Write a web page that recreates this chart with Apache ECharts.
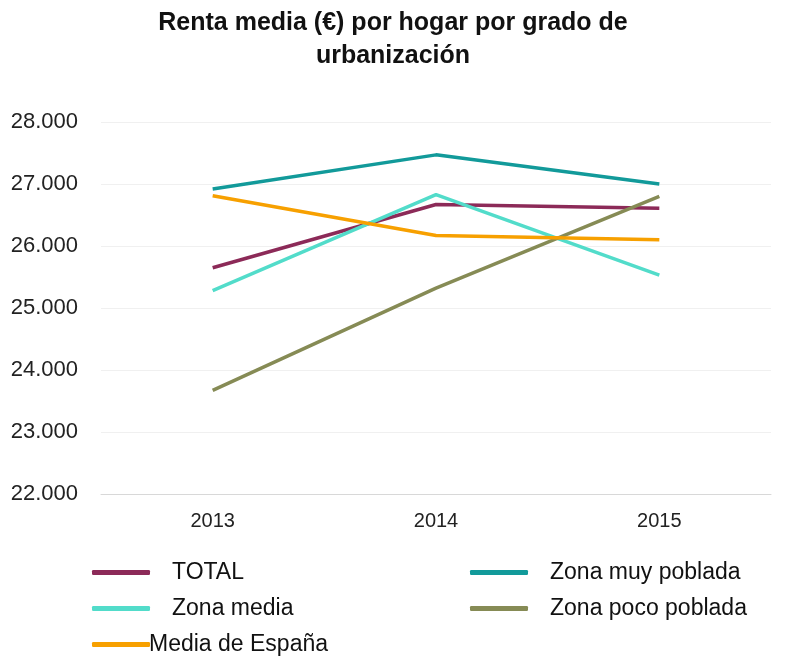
<!DOCTYPE html>
<html>
<head>
<meta charset="utf-8">
<script src="https://cdn.jsdelivr.net/npm/echarts@6/dist/echarts.min.js"></script>
<style>
  html, body { margin: 0; padding: 0; background: #fff; }
  #main { width: 786px; height: 659px; }
</style>
</head>
<body>
<div id="main"></div>
<script>
// datos
const years = ['2013', '2014', '2015'];
const total = [25650, 26670, 26610];
const zonaMuyPoblada = [26920, 27470, 27000];
const zonaMedia = [25280, 26830, 25530];
const zonaPocoPoblada = [23670, 25320, 26800];
const mediaEspana = [26810, 26170, 26100];

const chart = echarts.init(document.getElementById('main'));

const legendText = { fontSize: 23, color: '#111', fontFamily: 'Liberation Sans' };

const option = {
  backgroundColor: '#fff',
  title: {
    text: 'Renta media (€) por hogar por grado de\nurbanización',
    left: 'center',
    top: 2,
    textStyle: {
      fontSize: 25,
      fontWeight: 'bold',
      color: '#111',
      fontFamily: 'Liberation Sans',
      lineHeight: 33
    }
  },
  grid: { left: 101, right: 15, top: 122, bottom: 165 },
  legend: [
    {
      orient: 'vertical',
      left: 87,
      top: 556,
      height: 110,
      itemGap: 13,
      itemWidth: 58,
      itemHeight: 5,
      icon: 'roundRect',
      textStyle: legendText,
      data: [
        { name: 'TOTAL', textStyle: { padding: [0, 0, 0, 17] } },
        { name: 'Zona media', textStyle: { padding: [0, 0, 0, 17] } },
        { name: 'Media de España', textStyle: { padding: [0, 0, 0, -6] } }
      ]
    },
    {
      orient: 'vertical',
      left: 465,
      top: 556,
      height: 110,
      itemGap: 13,
      itemWidth: 58,
      itemHeight: 5,
      icon: 'roundRect',
      textStyle: legendText,
      data: [
        { name: 'Zona muy poblada', textStyle: { padding: [0, 0, 0, 17] } },
        { name: 'Zona poco poblada', textStyle: { padding: [0, 0, 0, 17] } }
      ]
    }
  ],
  xAxis: {
    type: 'category',
    data: years,
    axisLine: { lineStyle: { color: '#d8d8d8', width: 1 } },
    axisTick: { show: false },
    axisLabel: { fontSize: 20, color: '#222', margin: 17, fontFamily: 'Liberation Sans' }
  },
  yAxis: {
    type: 'value',
    min: 22000,
    max: 28000,
    interval: 1000,
    axisLine: { show: false },
    axisTick: { show: false },
    splitLine: { lineStyle: { color: '#f0f0f0' } },
    axisLabel: {
      fontSize: 22,
      color: '#222',
      margin: 23,
      fontFamily: 'Liberation Sans',
      formatter: v => v.toString().replace(/\B(?=(\d{3})+(?!\d))/g, '.')
    }
  },
  series: [
    { name: 'TOTAL', type: 'line', data: total, color: '#8c2a58' },
    { name: 'Zona muy poblada', type: 'line', data: zonaMuyPoblada, color: '#129a9a' },
    { name: 'Zona media', type: 'line', data: zonaMedia, color: '#52dcca' },
    { name: 'Zona poco poblada', type: 'line', data: zonaPocoPoblada, color: '#868b55' },
    { name: 'Media de España', type: 'line', data: mediaEspana, color: '#f7a000' }
  ].map(s => Object.assign(s, {
    symbol: 'none',
    lineStyle: { width: 3.5 },
    animation: false
  }))
};

chart.setOption(option);
</script>
</body>
</html>
